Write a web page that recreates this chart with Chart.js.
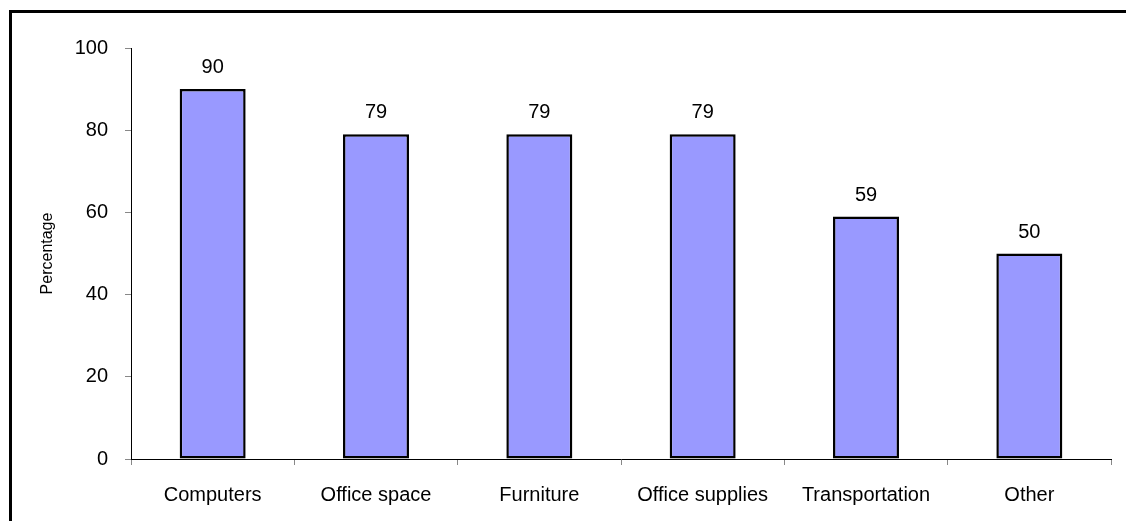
<!DOCTYPE html>
<html>
<head>
<meta charset="utf-8">
<script src="https://cdn.jsdelivr.net/npm/chart.js@4/dist/chart.umd.min.js"></script>
<style>
  body { margin: 0; background: #fff; }
  canvas { display: block; }
</style>
</head>
<body>
<canvas id="myChart" width="1126" height="521"></canvas>
<script>
var categories = ["Computers", "Office space", "Furniture", "Office supplies", "Transportation", "Other"];
var percentages = [90, 79, 79, 79, 59, 50];
var yTicks = [0, 20, 40, 60, 80, 100];

var fontFamily = '"Liberation Sans", Arial, sans-serif';

// outer frame (only left and top edges show in the picture)
var framePlugin = {
  id: 'frame',
  beforeDraw: function(chart) {
    var ctx = chart.ctx;
    ctx.save();
    ctx.fillStyle = '#fff';
    ctx.fillRect(0, 0, chart.width, chart.height);
    ctx.strokeStyle = '#000';
    ctx.lineWidth = 3;
    ctx.beginPath();
    ctx.moveTo(10.5, chart.height);
    ctx.lineTo(10.5, 11.5);
    ctx.lineTo(chart.width, 11.5);
    ctx.stroke();
    ctx.restore();
  }
};

// numbers above the bars
var valueLabels = {
  id: 'valueLabels',
  afterDatasetsDraw: function(chart) {
    var ctx = chart.ctx;
    var meta = chart.getDatasetMeta(0);
    ctx.save();
    ctx.font = '20px ' + fontFamily;
    ctx.fillStyle = '#000';
    ctx.textAlign = 'center';
    ctx.textBaseline = 'alphabetic';
    meta.data.forEach(function(bar, i) {
      ctx.fillText(chart.data.datasets[0].data[i], bar.x, bar.y - 16);
    });
    ctx.restore();
  }
};

var ctx = document.getElementById('myChart').getContext('2d');
var chart = new Chart(ctx, {
  type: 'bar',
  data: {
    labels: categories,
    datasets: [{
      label: "Percentage",
      data: percentages,
      backgroundColor: '#9999FF',
      borderColor: '#000',
      borderWidth: 2.5,
      borderSkipped: false,
      barPercentage: 0.404,
      categoryPercentage: 1
    }]
  },
  options: {
    responsive: false,
    animation: false,
    layout: { padding: { left: 0, top: 48, right: 15, bottom: 0 } },
    plugins: {
      legend: { display: false },
      tooltip: { enabled: false }
    },
    scales: {
      x: {
        offset: true,
        grid: { offset: true, drawOnChartArea: false, tickLength: 6, color: '#888' },
        border: { color: '#000', width: 1 },
        ticks: {
          color: '#000',
          padding: 18,
          maxRotation: 0,
          font: { family: fontFamily, size: 20 }
        },
        afterFit: function(scale) { scale.height = 62; }
      },
      y: {
        min: 0,
        max: 100,
        afterBuildTicks: function(scale) {
          scale.ticks = yTicks.map(function(v) { return { value: v }; });
        },
        grid: { drawOnChartArea: false, tickLength: 6, color: '#888' },
        border: { color: '#000', width: 1 },
        ticks: {
          color: '#000',
          padding: 17,
          font: { family: fontFamily, size: 20 }
        },
        title: {
          display: true,
          text: 'Percentage',
          color: '#000',
          padding: { top: 38, bottom: 0 },
          font: { family: fontFamily, size: 16 }
        },
        afterFit: function(scale) { scale.width = 131; }
      }
    }
  },
  plugins: [framePlugin, valueLabels]
});
</script>
</body>
</html>
